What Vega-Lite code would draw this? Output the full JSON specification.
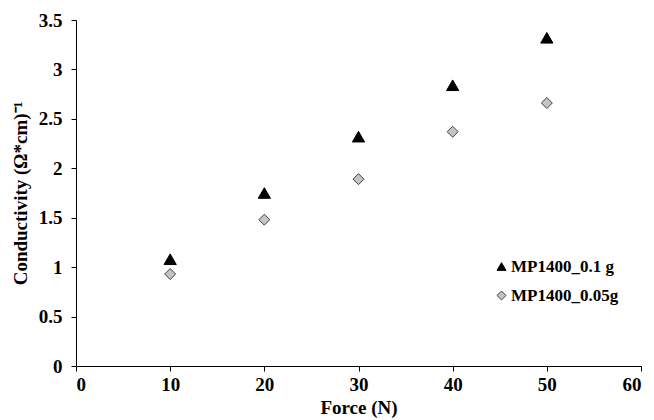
{
  "$schema": "https://vega.github.io/schema/vega-lite/v6.json",
  "width": 565,
  "height": 346,
  "autosize": "none",
  "padding": {"left": 76, "top": 20, "right": 13, "bottom": 54},
  "background": "white",
  "config": {
    "view": {"stroke": null},
    "font": "Liberation Serif",
    "axis": {
      "labelFont": "Liberation Serif",
      "titleFont": "Liberation Serif",
      "labelFontWeight": "bold",
      "titleFontWeight": "bold",
      "labelFontSize": 19,
      "titleFontSize": 19,
      "labelColor": "black",
      "titleColor": "black",
      "domainColor": "black",
      "tickColor": "black",
      "grid": false,
      "tickSize": 5
    }
  },
  "data": {
    "values": [
      {"force": 10, "conductivity": 1.08, "series": "MP1400_0.1 g"},
      {"force": 20, "conductivity": 1.75, "series": "MP1400_0.1 g"},
      {"force": 30, "conductivity": 2.32, "series": "MP1400_0.1 g"},
      {"force": 40, "conductivity": 2.84, "series": "MP1400_0.1 g"},
      {"force": 50, "conductivity": 3.32, "series": "MP1400_0.1 g"},
      {"force": 10, "conductivity": 0.93, "series": "MP1400_0.05g"},
      {"force": 20, "conductivity": 1.48, "series": "MP1400_0.05g"},
      {"force": 30, "conductivity": 1.89, "series": "MP1400_0.05g"},
      {"force": 40, "conductivity": 2.37, "series": "MP1400_0.05g"},
      {"force": 50, "conductivity": 2.66, "series": "MP1400_0.05g"}
    ]
  },
  "encoding": {
    "x": {
      "field": "force", "type": "quantitative",
      "scale": {"domain": [0, 60], "nice": false},
      "axis": {"values": [0, 10, 20, 30, 40, 50, 60], "format": "d", "title": "Force (N)", "titlePadding": 4, "labelPadding": 4}
    },
    "y": {
      "field": "conductivity", "type": "quantitative",
      "scale": {"domain": [0, 3.5], "nice": false},
      "axis": {"values": [0, 0.5, 1, 1.5, 2, 2.5, 3, 3.5], "format": "~g", "title": "Conductivity (Ω*cm)⁻¹", "titlePadding": 8, "labelPadding": 9}
    },
    "shape": {
      "field": "series", "type": "nominal",
      "scale": {"domain": ["MP1400_0.1 g", "MP1400_0.05g"], "range": ["triangle-up", "diamond"]},
      "legend": {
        "title": null, "orient": "none", "legendX": 417, "legendY": 238,
        "labelFont": "Liberation Serif", "labelFontWeight": "bold", "labelFontSize": 17,
        "labelColor": "black", "symbolSize": 80, "rowPadding": 11, "labelOffset": 1,
        "symbolStrokeWidth": 1,
        "encode": {"symbols": {"update": {"size": {"signal": "datum.value === 'MP1400_0.1 g' ? 100 : 60"}}}}
      }
    },
    "fill": {
      "field": "series", "type": "nominal",
      "scale": {"domain": ["MP1400_0.1 g", "MP1400_0.05g"], "range": ["black", "#c4c4c4"]},
      "legend": null
    },
    "stroke": {
      "field": "series", "type": "nominal",
      "scale": {"domain": ["MP1400_0.1 g", "MP1400_0.05g"], "range": ["black", "#404040"]},
      "legend": null
    }
  },
  "layer": [
    {
      "transform": [{"filter": "datum.series === 'MP1400_0.1 g'"}],
      "mark": {"type": "point", "filled": true, "strokeWidth": 1, "opacity": 1, "size": 150}
    },
    {
      "transform": [{"filter": "datum.series === 'MP1400_0.05g'"}],
      "mark": {"type": "point", "filled": true, "strokeWidth": 1, "opacity": 1, "size": 120}
    }
  ]
}
